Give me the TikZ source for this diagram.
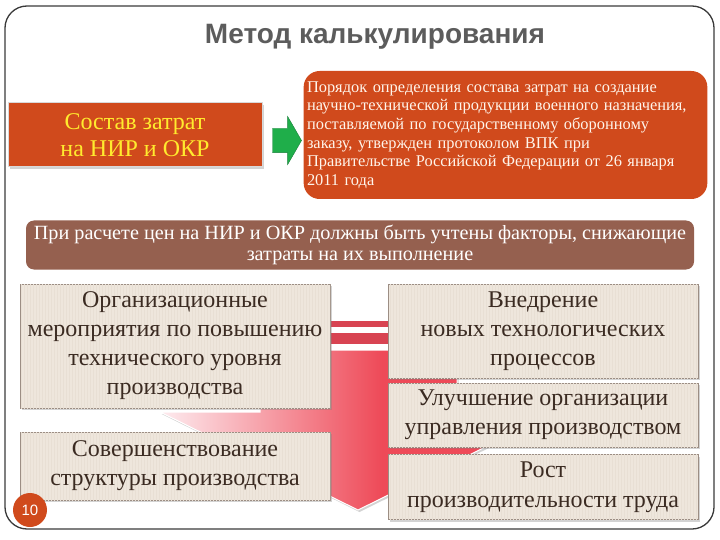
\documentclass[tikz,border=0pt]{standalone}
\usepackage{fontspec}
\setmainfont{Liberation Serif}
\newfontfamily\titlefont{Liberation Sans}
\usetikzlibrary{shapes.arrows,shadows,patterns}

\definecolor{framegray}{HTML}{3A3A3A}
\definecolor{titlegray}{HTML}{5C5C5C}
\definecolor{rust}{HTML}{D04A1C}
\definecolor{goldtext}{HTML}{FFEB2E}
\definecolor{leaf}{HTML}{1FAE4A}
\definecolor{leafdark}{HTML}{17803A}
\definecolor{cocoa}{HTML}{95604F}
\definecolor{beige}{HTML}{EEE6DC}
\definecolor{beigeline}{HTML}{E8DFD4}
\definecolor{beigeedge}{HTML}{9C8E84}
\definecolor{beigetext}{HTML}{3B2B22}
\definecolor{pinklight}{HTML}{FDE6EA}
\definecolor{pinkred}{HTML}{EE4A58}
\definecolor{stripered}{HTML}{D84452}

\pgfdeclarehorizontalshading{arrowshade}{100bp}{color(0bp)=(pinklight); color(26bp)=(pinklight);
  color(53bp)=(pinkred); color(100bp)=(pinkred)}

\tikzset{
  softshadow/.style={drop shadow={shadow xshift=1.5pt, shadow yshift=-2pt, opacity=0.35}},
  factor/.style={draw=beigeedge, fill=beige, softshadow, minimum width=310pt,
    inner sep=2pt, align=center, text=beigetext, font=\fontsize{24}{29}\selectfont,
    postaction={pattern=vertical lines, pattern color=beigeline}},
}

\begin{document}
\begin{tikzpicture}[x=1pt,y=-1pt]
\useasboundingbox (0,0) rectangle (720,540);

% slide frame
\draw[framegray, line width=1.3pt, rounded corners=22pt] (5,6) rectangle (714,529);

\node[text=titlegray, font=\titlefont\bfseries\fontsize{28}{32}\selectfont] (title) at (375,37) {Метод калькулирования};

% big striped arrow behind the factors
\shade[shading=arrowshade, draw=white, line width=1pt, softshadow]
  (260,350) -- (457,350) -- (457,412) -- (556,412) -- (358,510) -- (160,412) -- (260,412) -- cycle;
\fill[stripered] (260,333) rectangle (457,344);
\fill[stripered] (260,321) rectangle (457,327);

% top row
\node[fill=rust, draw=white!85!black, line width=1pt, softshadow, minimum width=254pt, minimum height=64pt,
  text=goldtext, align=center, font=\fontsize{24}{27}\selectfont] (sostav) at (135,135)
  {Состав затрат\\на НИР и ОКР};
\node[fill=rust, rounded corners=16pt, minimum width=403pt, minimum height=128pt, text width=397pt,
  align=left, text=white!92!orange, font=\fontsize{16.4}{18.6}\selectfont] (poryadok) at (505.5,135)
  {Порядок определения состава затрат на создание\\
   научно-технической продукции военного назначения,\\
   поставляемой по государственному оборонному\\
   заказу, утвержден протоколом ВПК при\\
   Правительстве Российской Федерации от 26 января\\
   2011 года};
\node[single arrow, fill=leaf, draw=leafdark, minimum height=29pt, inner xsep=0pt, inner ysep=12pt,
  single arrow head extend=12pt, single arrow tip angle=120] (arr) at (283.5,140.5) {};

% banner
\node[fill=cocoa, rounded corners=8pt, minimum width=668pt, minimum height=49pt, align=center,
  text=white, font=\fontsize{20.2}{21}\selectfont] (banner) at (360,245)
  {При расчете цен на НИР и ОКР должны быть учтены факторы, снижающие\\затраты на их выполнение};

% factors
\node[factor, minimum height=124pt] (org) at (175,346)
  {Организационные\\мероприятия по повышению\\технического уровня\\производства};
\node[factor, minimum height=68pt] (struct) at (175,466)
  {Совершенствование\\структуры производства};
\node[factor, minimum height=94pt] (vnedr) at (543,331)
  {Внедрение\\новых технологических\\процессов};
\node[factor, minimum height=64pt] (uluch) at (543,415)
  {Улучшение организации\\управления производством};
\node[factor, minimum height=65pt, font=\fontsize{24}{30}\selectfont] (rost) at (543,487)
  {Рост\\производительности труда};

% slide number
\node[circle, fill=rust, minimum size=34pt, inner sep=0pt, text=white, font=\titlefont\fontsize{15}{17}\selectfont] (page) at (30,510) {10};

\end{tikzpicture}
\end{document}
